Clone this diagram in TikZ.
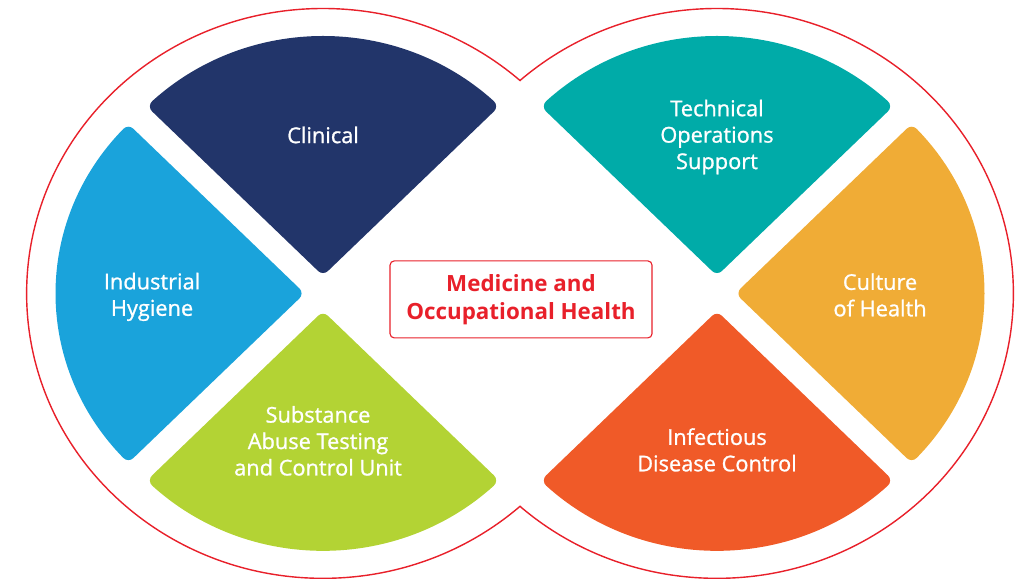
\documentclass[tikz,border=0pt]{standalone}
\usepackage{fontspec}
\setmainfont{Open Sans}
\newfontfamily\labelfont[FakeBold=1]{Open Sans}
\usetikzlibrary{calc}

\definecolor{ringred}{RGB}{232,32,42}
\definecolor{clinical}{RGB}{34,53,106}
\definecolor{hygiene}{RGB}{26,163,219}
\definecolor{substance}{RGB}{179,211,52}
\definecolor{technical}{RGB}{0,171,168}
\definecolor{culture}{RGB}{240,172,54}
\definecolor{infectious}{RGB}{240,90,40}

\tikzset{
  ring/.style={draw=ringred, line width=1pt},
  piece/.style={line width=0.35cm, line join=round},
  piecetext/.style={text=white, align=center, font=\labelfont\fontsize{15.5}{18.8}\selectfont},
  hub/.style={draw=ringred, line width=0.8pt, rounded corners=3pt, text=ringred, align=center,
    minimum width=6.55cm, minimum height=1.925cm, font=\bfseries\fontsize{15.9}{19.9}\selectfont}
}

\begin{document}
\begin{tikzpicture}[x=0.026cm, y=0.025cm]
  \useasboundingbox (0,0) rectangle (988.46,579);
  \coordinate (L) at (310.6,285.5);
  \coordinate (R) at (689.4,285.5);

  % outer line of the two rings
  \begin{scope}
    \clip (0,0) rectangle (500,579);
    \draw[ring] (L) circle (285);
  \end{scope}
  \begin{scope}
    \clip (500,0) rectangle (988.46,579);
    \draw[ring] (R) circle (285);
  \end{scope}

  % pieces
  \foreach \c/\a/\col in {L/90/clinical, L/180/hygiene, L/270/substance,
                          R/90/technical, R/0/culture, R/270/infectious}
    \filldraw[piece, fill=\col, draw=\col] ($(\c)+(\a:27.4)$) -- ++(\a+45:225.9)
      arc[start angle=\a+43.28, end angle=\a-43.28, radius=233] -- cycle;

  \node[piecetext] (clin) at (310.6,444) {Clinical};
  \node[piecetext] (hyg) at (146.2,282) {Industrial\\Hygiene};
  \node[piecetext] (sub) at (305.8,138) {Substance\\Abuse Testing\\and Control Unit};
  \node[piecetext] (tech) at (689.4,442) {Technical\\Operations\\Support};
  \node[piecetext] (cult) at (846.2,284) {Culture\\of Health};
  \node[piecetext] (inf) at (689.4,129) {Infectious\\Disease Control};

  \node[hub] (moh) at (501,279.5) {Medicine and\\Occupational Health};
\end{tikzpicture}
\end{document}
